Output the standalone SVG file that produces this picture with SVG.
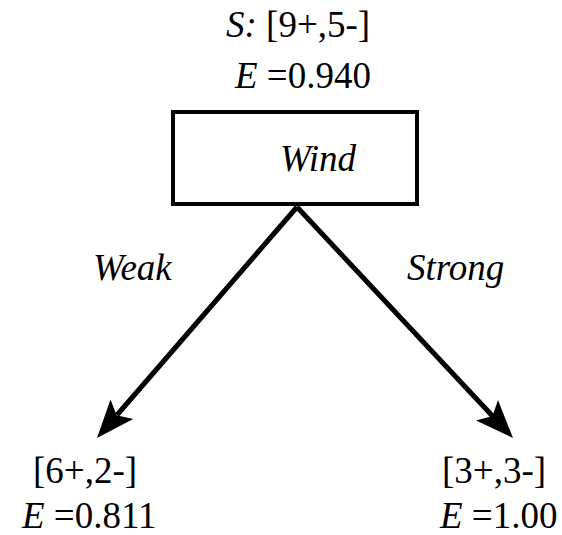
<svg xmlns="http://www.w3.org/2000/svg" width="562" height="535" viewBox="0 0 562 535">
<defs>
<style>
.t{font-family:"Liberation Serif","Times New Roman",serif !important;font-size:37px}
.i{font-style:italic}
.edge{stroke:#000;stroke-width:5;fill:none}
.head{fill:#000}
</style>
</defs>
<rect width="562" height="535" fill="#fff"/>
<g id="root">
<text class="t" font-family="Liberation Serif, serif" style="font-family:'Liberation Serif',serif !important" x="226" y="37"><tspan class="i">S:</tspan> [9+,5-]</text>
<text class="t" font-family="Liberation Serif, serif" style="font-family:'Liberation Serif',serif !important" x="235" y="88"><tspan class="i">E</tspan> =0.940</text>
<rect x="173" y="112" width="244" height="92" fill="none" stroke="#000" stroke-width="4"/>
<text class="t i" font-family="Liberation Serif, serif" style="font-family:'Liberation Serif',serif !important" x="280" y="171">Wind</text>
</g>
<g id="connectors">
<line class="edge" x1="297" y1="207" x2="117" y2="415"/>
<path class="head" d="M97,438 L133.2,419.1 L116.6,415.3 L110.5,399.5 Z"/>
<line class="edge" x1="297" y1="207" x2="492.5" y2="416"/>
<path class="head" d="M513,438 L476.1,420.5 L492.5,416.1 L498,400 Z"/>
<text class="t i" font-family="Liberation Serif, serif" style="font-family:'Liberation Serif',serif !important" x="93" y="280">Weak</text>
<text class="t i" font-family="Liberation Serif, serif" style="font-family:'Liberation Serif',serif !important" x="407" y="280">Strong</text>
</g>
<g id="left">
<text class="t" font-family="Liberation Serif, serif" style="font-family:'Liberation Serif',serif !important" x="33" y="483">[6+,2-]</text>
<text class="t" font-family="Liberation Serif, serif" style="font-family:'Liberation Serif',serif !important" x="22" y="528"><tspan class="i">E</tspan> =0.811</text>
</g>
<g id="right">
<text class="t" font-family="Liberation Serif, serif" style="font-family:'Liberation Serif',serif !important" x="442" y="483">[3+,3-]</text>
<text class="t" font-family="Liberation Serif, serif" style="font-family:'Liberation Serif',serif !important" x="440" y="528"><tspan class="i">E</tspan> =1.00</text>
</g>
</svg>
